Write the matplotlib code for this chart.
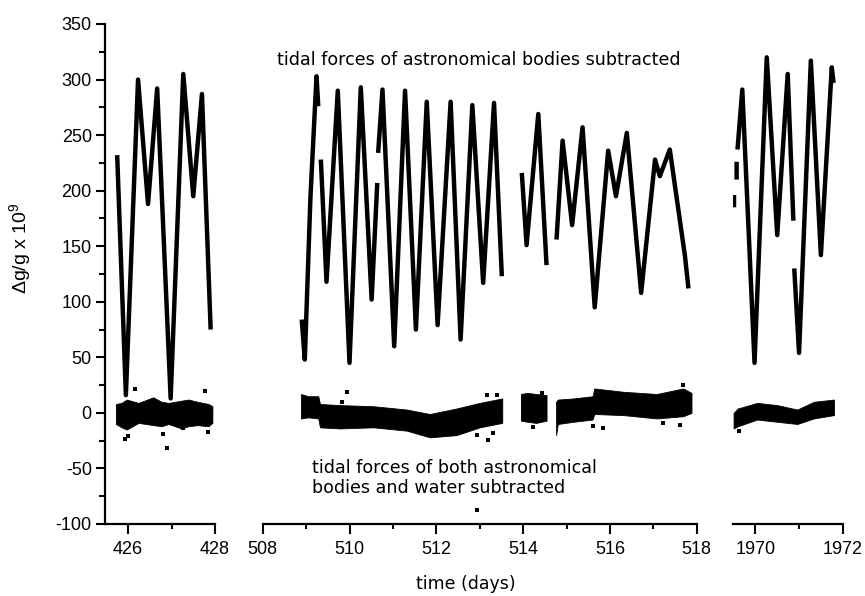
import numpy as np
import matplotlib
matplotlib.use("Agg")
import matplotlib.pyplot as plt
from matplotlib.ticker import MultipleLocator, FixedLocator

nan = np.nan

# tidal forces of astronomical bodies subtracted (nan = gap in the record)
t_tide_1 = [425.75, 425.95, 426.23, 426.46, 426.67, 426.98, 427.27, 427.50, 427.70, 427.90]
g_tide_1 = [232, 16, 300, 188, 292, 13, 305, 195, 287, 75]

t_tide_2 = [508.90, 508.97, 509.10, 509.24, 509.28, nan,
            509.34, 509.47, 509.73, 510.00, 510.26, 510.51, 510.64, nan,
            510.66, 510.76, 511.03, 511.28, 511.53, 511.78, 512.03, 512.33,
            512.56, 512.83, 513.08, 513.33, 513.51, nan,
            513.97, 514.08, 514.35, 514.54, nan,
            514.77, 514.91, 515.13, 515.37, 515.65, 515.96, 516.14, 516.39,
            516.72, 517.04, 517.15, 517.38, 517.73, 517.81]
g_tide_2 = [84, 48, 194, 303, 276, nan,
            228, 118, 290, 45, 293, 102, 207, nan,
            234, 291, 60, 290, 75, 280, 79, 280,
            66, 277, 117, 279, 123, nan,
            216, 151, 269, 133, nan,
            156, 245, 169, 257, 95, 236, 195, 252,
            108, 228, 213, 237, 141, 112]

t_tide_3 = [1969.51, 1969.51, nan, 1969.57, 1969.57, nan,
            1969.59, 1969.70, 1969.98, 1970.26, 1970.50, 1970.74, 1970.87, nan,
            1970.89, 1971.00, 1971.27, 1971.50, 1971.75, 1971.79]
g_tide_3 = [185, 196, nan, 210, 226, nan,
            237, 291, 45, 320, 160, 305, 173, nan,
            130, 54, 317, 142, 311, 297]

# tidal forces of astronomical bodies and water subtracted: band of the residuals
res_bands = [
    # (panel, times, upper, lower)
    (0, [425.72, 425.85, 425.97, 426.24, 426.58, 426.77, 426.93, 427.23, 427.39, 427.60, 427.85, 427.94],
        [8, 9, 12, 9, 14, 10, 9, 11, 12, 10, 8, 6],
        [-10, -13, -15, -9, -11, -12, -10, -14, -12, -11, -12, -9]),
    (1, [508.88, 509.05, 509.28, 509.32, 509.78, 510.55, 511.32, 511.85, 512.47, 513.0, 513.52],
        [17, 15, 15, 8, 7, 6, 3, -1, 4, 9, 13],
        [-5, -4, -5, -13, -14, -13, -16, -22, -20, -13, -9]),
    (1, [513.95, 514.1, 514.3, 514.54],
        [17, 18, 17, 16],
        [-7, -8, -9, -7]),
    (1, [514.76, 514.80, 515.16, 515.60, 515.64, 516.31, 517.08, 517.69, 517.88],
        [10, 12, 13, 15, 22, 19, 17, 22, 18],
        [-20, -10, -8, -6, -1, -2, -5, -3, 0]),
    (2, [1969.50, 1969.60, 1970.04, 1970.50, 1970.96, 1971.34, 1971.80],
        [0, 4, 9, 7, 3, 10, 12],
        [-14, -12, -6, -8, -10, -5, -2]),
]

# scattered residual points outside the band
out_t_1 = [426.16, 425.93, 426.00, 426.89, 426.81, 427.77, 427.85, 427.26]
out_g_1 = [21.6, -23.5, -21, -32, -19, 20, -17, -13.5]
out_t_2 = [509.94, 509.83, 513.20, 512.93, 513.31, 513.16, 513.39, 514.23,
           514.43, 515.85, 517.23, 517.61, 517.69, 515.62, 512.94]
out_g_2 = [19.2, 10, -24.3, -19.8, -17.7, 16.3, 16.3, -12.3,
           17.7, -13.8, -9.3, -10.8, 25, -12, -87]
out_t_3 = [1969.62]
out_g_3 = [-16]

xlims = [(425.47, 428), (508, 518), (1969.48, 1972)]
x_major = [[426, 428], list(range(508, 519, 2)), [1970, 1972]]
x_minor = [[427], list(range(509, 518, 2)), [1971]]

plt.rcParams['mathtext.fontset'] = 'custom'
plt.rcParams['mathtext.rm'] = 'Liberation Sans'
plt.rcParams['mathtext.it'] = 'Liberation Sans:italic'
plt.rcParams['axes.unicode_minus'] = False

W, H = 865, 596
fig = plt.figure(figsize=(W / 100, H / 100), dpi=100)

boxes = [(105, 110), (262.7, 434), (732.7, 110)]
axes = []
for left, width in boxes:
    ax = fig.add_axes([left / W, 1 - 524 / H, width / W, 500 / H])
    axes.append(ax)

tide_t = [t_tide_1, t_tide_2, t_tide_3]
tide_g = [g_tide_1, g_tide_2, g_tide_3]
out_t = [out_t_1, out_t_2, out_t_3]
out_g = [out_g_1, out_g_2, out_g_3]

for i, ax in enumerate(axes):
    ax.plot(tide_t[i], tide_g[i], color='black', lw=3.2,
            solid_joinstyle='round', solid_capstyle='butt')
    ax.scatter(out_t[i], out_g[i], s=5, marker='s', color='black', lw=0)
    ax.set_xlim(*xlims[i])
    ax.set_ylim(-100, 350)
    ax.xaxis.set_major_locator(FixedLocator(x_major[i]))
    ax.xaxis.set_minor_locator(FixedLocator(x_minor[i]))
    for s in ['top', 'right']:
        ax.spines[s].set_visible(False)
    ax.spines['bottom'].set_linewidth(1.6)
    ax.tick_params(axis='x', which='major', length=7, width=1.5, pad=5,
                   labelsize=13, direction='out')
    ax.tick_params(axis='x', which='minor', length=3.5, width=1.5, direction='out')
    for lab in ax.get_xticklabels():
        lab.set_family('Liberation Sans')
    if i > 0:
        ax.spines['left'].set_visible(False)
        ax.set_yticks([])
    ax.patch.set_alpha(0)

for panel, tt, up, lo in res_bands:
    axes[panel].fill_between(tt, lo, up, color='black', lw=0.6, edgecolor='black')

ax1 = axes[0]
ax1.spines['left'].set_linewidth(1.6)
ax1.yaxis.set_major_locator(MultipleLocator(50))
ax1.yaxis.set_minor_locator(MultipleLocator(25))
ax1.tick_params(axis='y', which='major', length=6.5, width=1.5, pad=3,
                labelsize=13, direction='out')
ax1.tick_params(axis='y', which='minor', length=4, width=1.5, direction='out')
for lab in ax1.get_yticklabels():
    lab.set_family('Liberation Sans')

fig.text(20 / W, 1 - 248 / H, 'Δg/g x 10$^{9}$', rotation=90, ha='center', va='center',
         fontsize=14, family='Liberation Sans')
fig.text(466 / W, 1 - 584 / H, 'time (days)', ha='center', va='center',
         fontsize=12.5, family='DejaVu Sans')
fig.text(277 / W, 1 - 60 / H, 'tidal forces of astronomical bodies subtracted',
         ha='left', va='center', fontsize=12.6, family='DejaVu Sans')
fig.text(312 / W, 1 - 478 / H, 'tidal forces of both astronomical\nbodies and water subtracted',
         ha='left', va='center', fontsize=12.6, family='DejaVu Sans', linespacing=1.15)

fig.savefig('out.png', dpi=100)
